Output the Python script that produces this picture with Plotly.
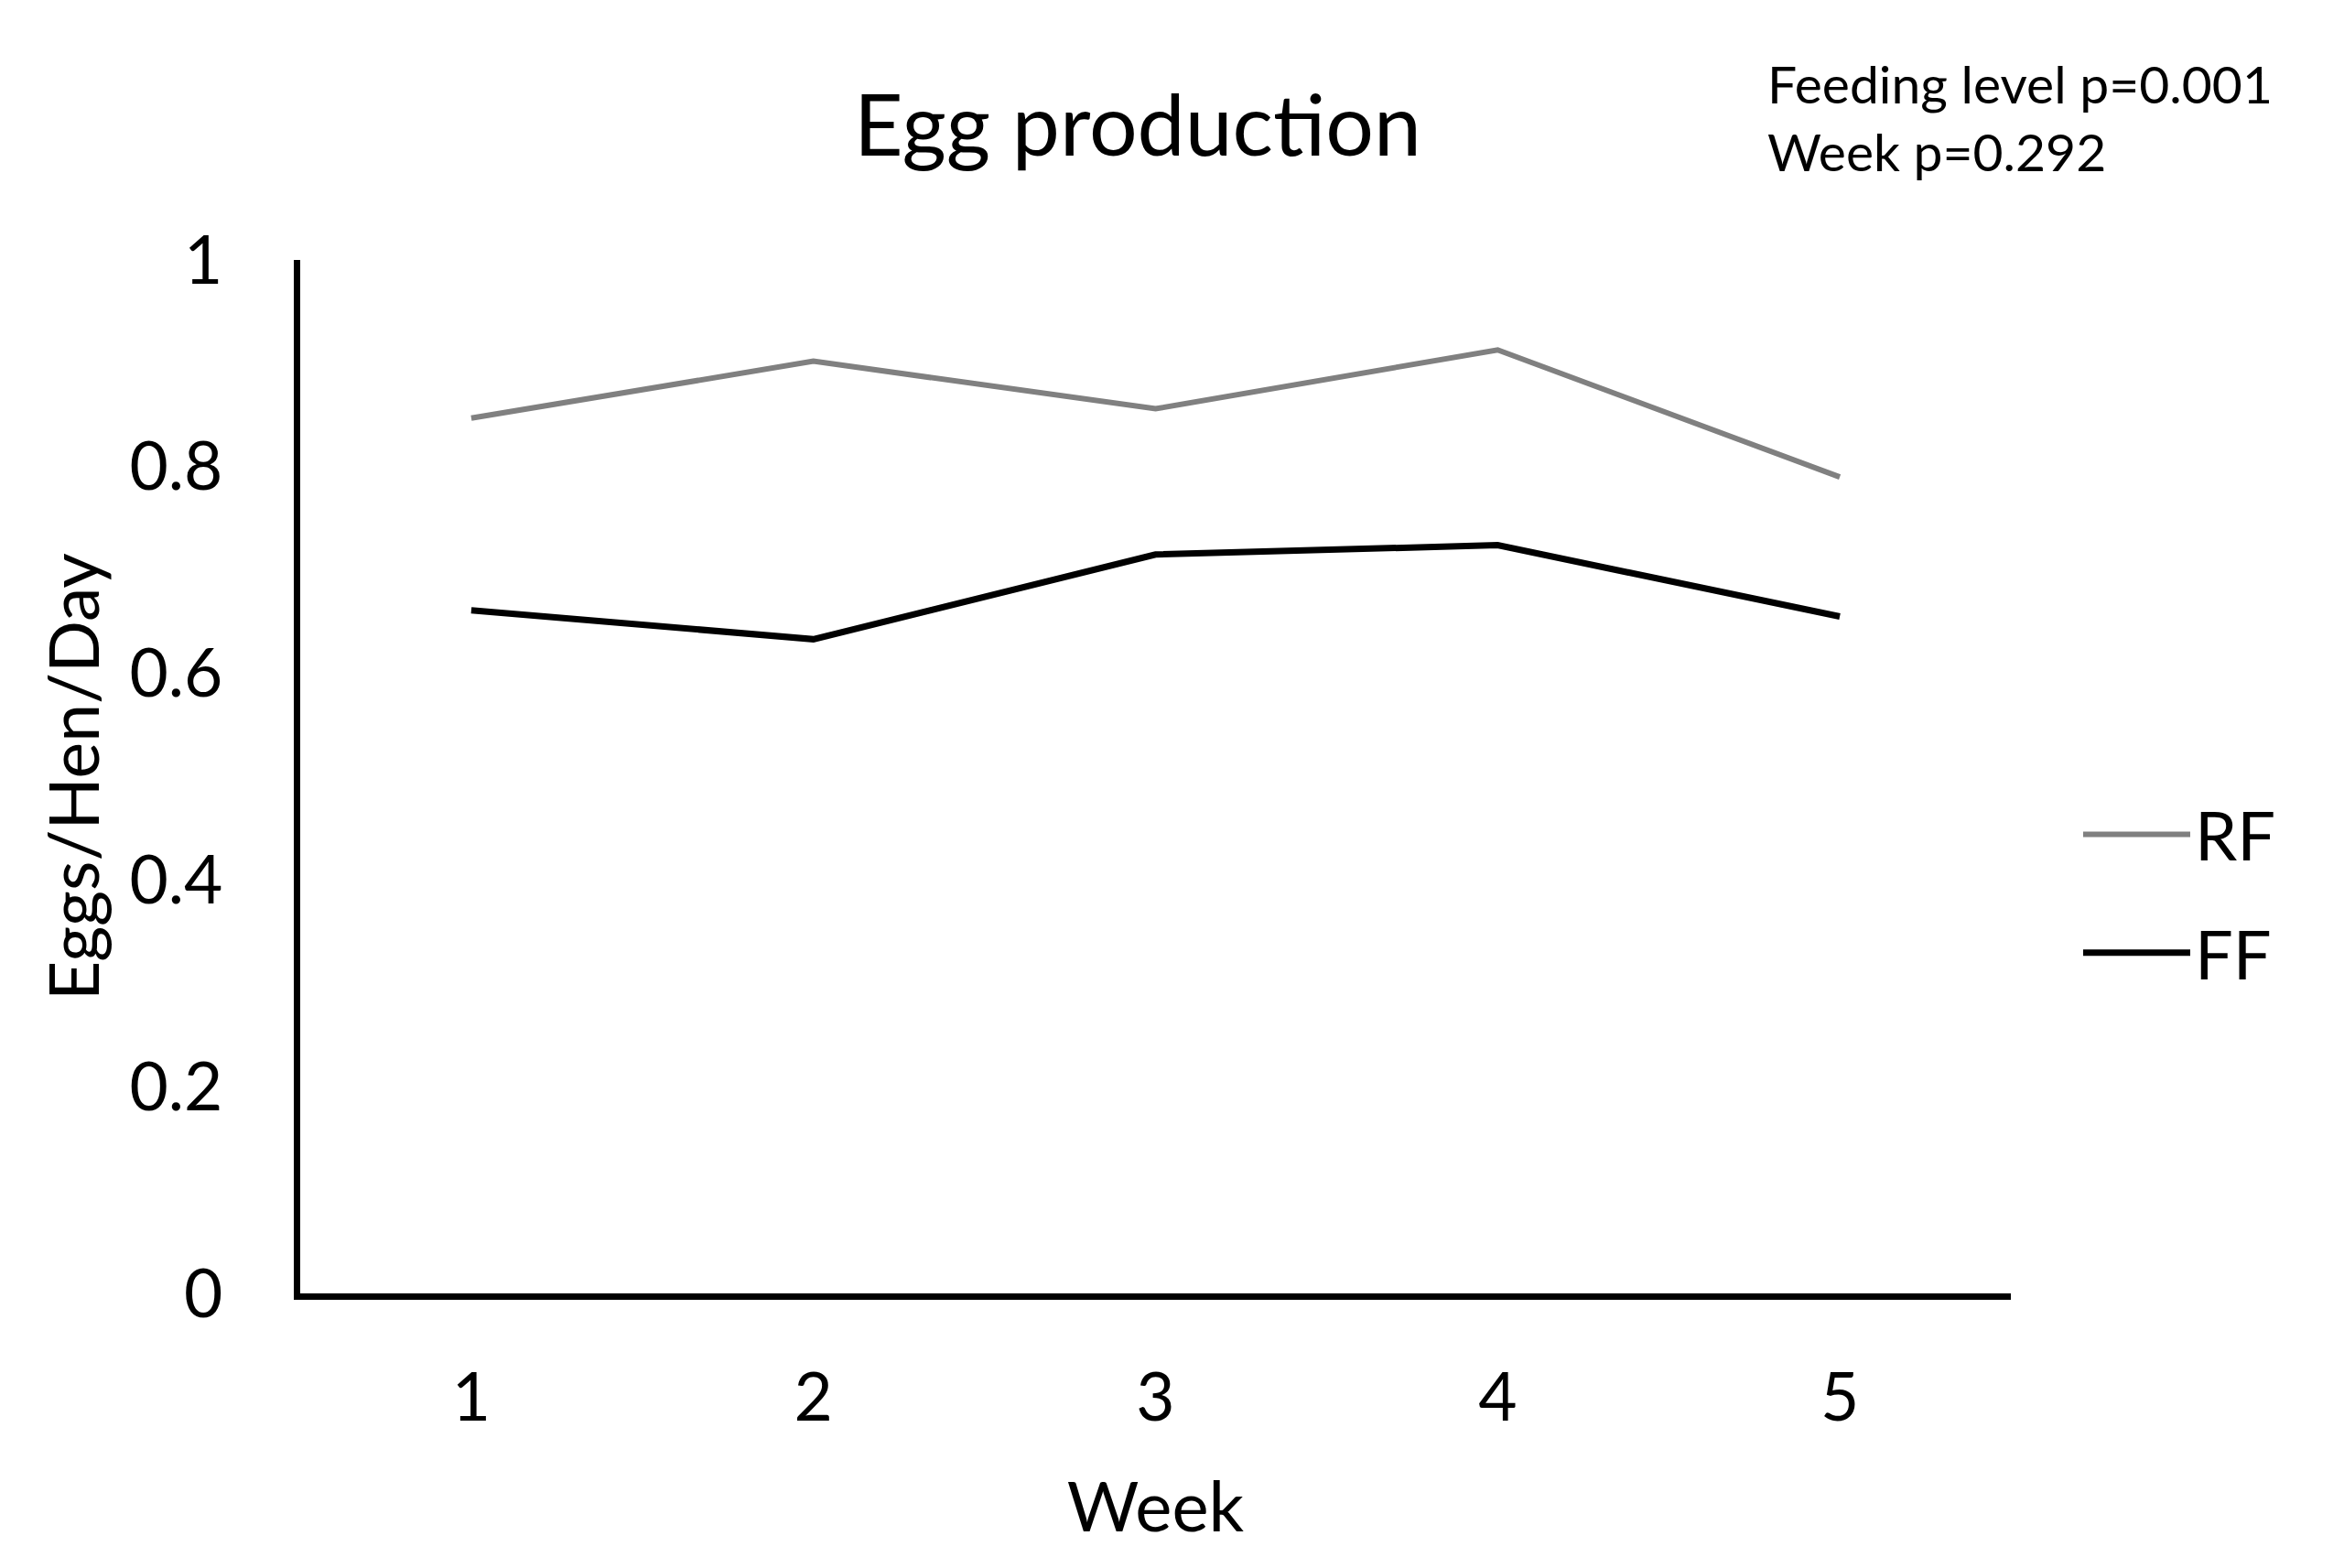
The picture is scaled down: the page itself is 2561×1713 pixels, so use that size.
import plotly.graph_objects as go

weeks = [1, 2, 3, 4, 5]
week_labels = ["1", "2", "3", "4", "5"]
rf_values = [0.847, 0.902, 0.856, 0.913, 0.790]
ff_values = [0.661, 0.633, 0.715, 0.724, 0.655]
y_ticks = [0, 0.2, 0.4, 0.6, 0.8, 1]
y_tick_labels = ["0", "0.2", "0.4", "0.6", "0.8", "1"]

FONT = "Lato"
L, R, T, B = 320, 372, 276, 308
W, H = 2561, 1713
PW = W - L - R
PH = H - T - B

fig = go.Figure()
fig.add_trace(go.Scatter(x=weeks, y=rf_values, mode="lines", name="RF",
                         line=dict(color="#808080", width=6), legendgroup="rf"))
fig.add_trace(go.Scatter(x=weeks, y=ff_values, mode="lines", name="FF",
                         line=dict(color="#000000", width=7), legendgroup="ff"))

fig.update_layout(
    width=W, height=H,
    margin=dict(l=L, r=R, t=T, b=B),
    paper_bgcolor="white", plot_bgcolor="white",
    font=dict(family=FONT, color="black", size=73),
    title=dict(text="Egg production", x=1235 / W, xanchor="center",
               xref="container", y=1 - 129 / H, yref="container", yanchor="middle",
               font=dict(size=93, family=FONT, color="black")),
    showlegend=True,
    legend=dict(x=(2263 - L) / PW, xanchor="left", y=1 - (849 - T) / PH, yanchor="top",
                font=dict(size=74, family=FONT, color="black"),
                itemwidth=117, tracegroupgap=30, traceorder="grouped",
                bgcolor="rgba(0,0,0,0)"),
    xaxis=dict(range=[0.5, 5.5], tickvals=weeks, ticktext=week_labels,
               showline=True, linecolor="black", linewidth=7,
               showgrid=False, zeroline=False, ticks="", ticklabelstandoff=44,
               tickfont=dict(size=73, family=FONT, color="black"),
               title=dict(text="Week", standoff=56, font=dict(size=76, family=FONT, color="black"))),
    yaxis=dict(range=[0, 1], tickvals=y_ticks, ticktext=y_tick_labels,
               showline=True, linecolor="black", linewidth=7,
               showgrid=False, zeroline=False, ticks="", ticklabelstandoff=63,
               tickfont=dict(size=73, family=FONT, color="black"),
               title=dict(text="Eggs/Hen/Day", standoff=11, font=dict(size=75, family=FONT, color="black"))),
    annotations=[dict(text="Feeding level p=0.001<br>Week p=0.292", xref="paper", yref="paper",
                      x=(1921 - L) / PW, y=(T + PH - 47) / PH, xanchor="left", yanchor="top",
                      align="left", showarrow=False,
                      font=dict(size=57, family=FONT, color="black"))],
)

fig.write_html("out.html")
